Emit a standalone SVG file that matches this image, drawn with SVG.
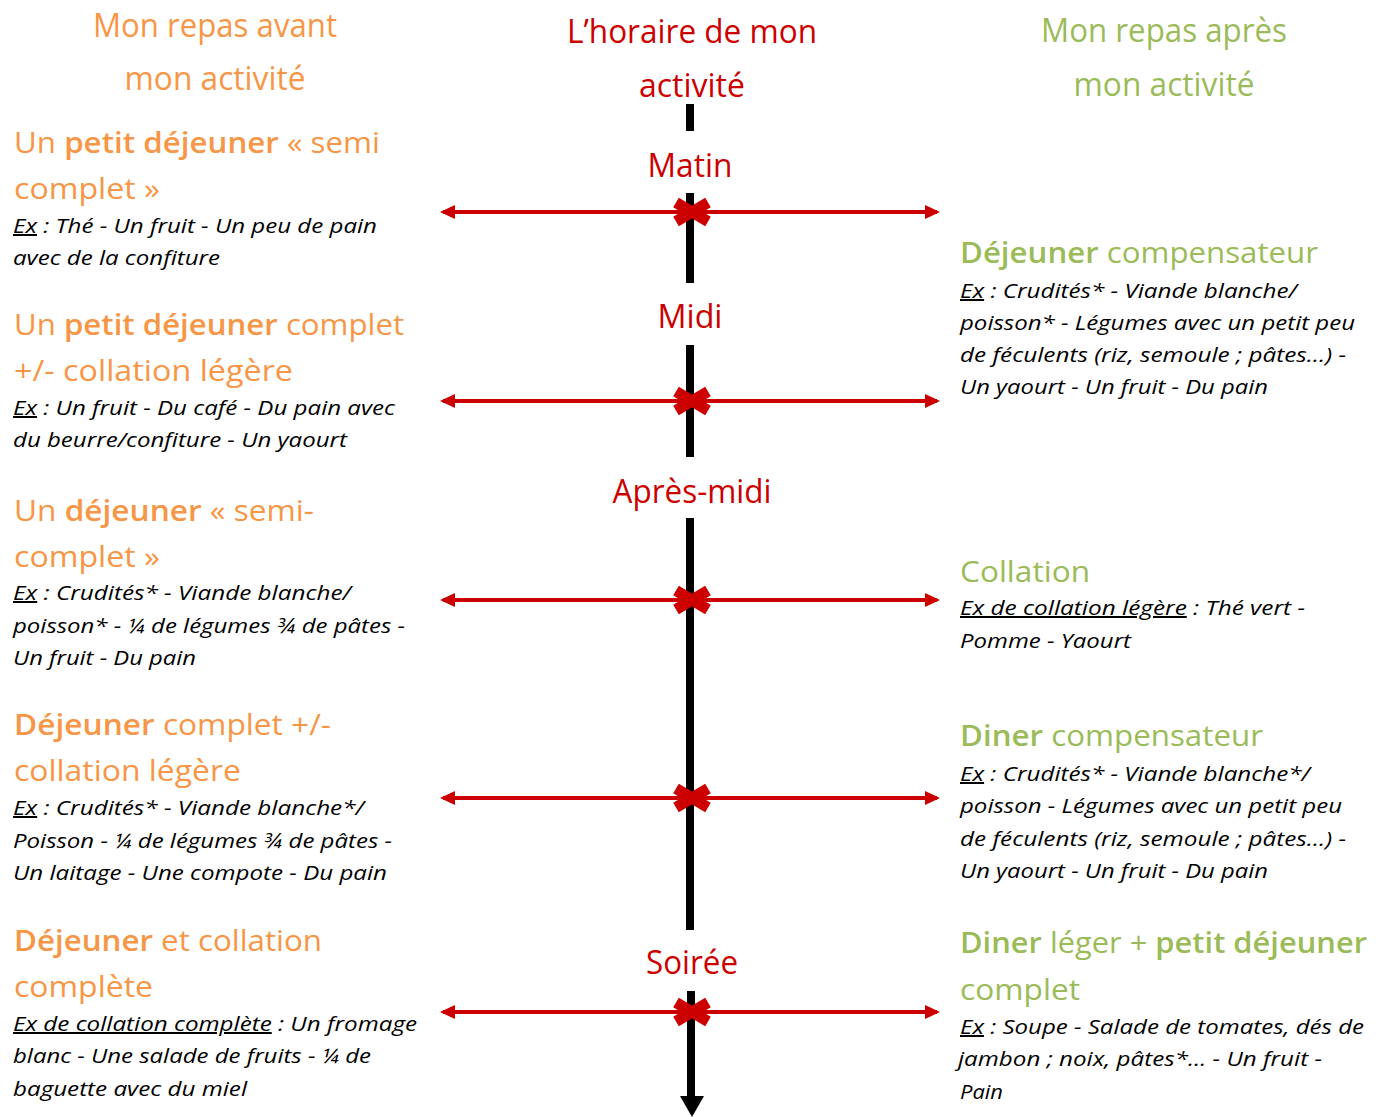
<svg xmlns="http://www.w3.org/2000/svg" width="1384" height="1117" viewBox="0 0 1384 1117">
<style>
text{font-family:"Open Sans","Noto Sans",sans-serif}
.h{font-size:29px}
.tt{font-size:32.5px}
.o{fill:#F79646}
.g{fill:#9BBB59}
.r{fill:#CC0000}
.b{font-weight:600}
.t{font-size:20px;font-style:italic;font-weight:400;fill:#000}
.u{text-decoration:underline}
.m{text-anchor:middle}
.arr{stroke:#CC0000;stroke-width:4;fill:none}
.x{stroke:#CC0000;stroke-width:11}
.tl{stroke:#000;stroke-width:8}
</style>
<defs>
<marker id="ah" markerUnits="userSpaceOnUse" markerWidth="16" markerHeight="16" refX="12" refY="7" orient="auto-start-reverse">
<path d="M0,0 L15,7 L0,14 Z" fill="#CC0000"/>
</marker>
</defs>

<g id="titles">
<text class="tt o m" x="215" y="37" textLength="244" lengthAdjust="spacingAndGlyphs">Mon repas avant</text>
<text class="tt o m" x="215" y="90" textLength="181" lengthAdjust="spacingAndGlyphs">mon activité</text>
<text class="tt r m" x="692" y="43" textLength="250" lengthAdjust="spacingAndGlyphs">L’horaire de mon</text>
<text class="tt r m" x="692" y="97" textLength="106" lengthAdjust="spacingAndGlyphs">activité</text>
<text class="tt g m" x="1164" y="42" textLength="246" lengthAdjust="spacingAndGlyphs">Mon repas après</text>
<text class="tt g m" x="1164" y="96" textLength="181" lengthAdjust="spacingAndGlyphs">mon activité</text>
</g>

<g id="connectors">
<line class="tl" x1="690" y1="104" x2="690" y2="131"/>
<line class="tl" x1="690" y1="193" x2="690" y2="283"/>
<line class="tl" x1="690" y1="345" x2="690" y2="457"/>
<line class="tl" x1="690" y1="518" x2="690" y2="930"/>
<line class="tl" x1="691" y1="991" x2="691" y2="1098"/>
<path d="M680,1096 L704,1096 L692,1117 Z" fill="#000"/>
<line class="arr" x1="443" y1="212" x2="937" y2="212" marker-start="url(#ah)" marker-end="url(#ah)"/>
<line class="arr" x1="443" y1="401" x2="937" y2="401" marker-start="url(#ah)" marker-end="url(#ah)"/>
<line class="arr" x1="443" y1="600" x2="937" y2="600" marker-start="url(#ah)" marker-end="url(#ah)"/>
<line class="arr" x1="443" y1="798" x2="937" y2="798" marker-start="url(#ah)" marker-end="url(#ah)"/>
<line class="arr" x1="443" y1="1012" x2="937" y2="1012" marker-start="url(#ah)" marker-end="url(#ah)"/>
</g>

<g id="marks">
<path class="x" d="M676,202.5 L708,221.5 M676,221.5 L708,202.5"/>
<path class="x" d="M676,391.5 L708,410.5 M676,410.5 L708,391.5"/>
<path class="x" d="M676,590.5 L708,609.5 M676,609.5 L708,590.5"/>
<path class="x" d="M676,788.5 L708,807.5 M676,807.5 L708,788.5"/>
<path class="x" d="M676,1002.5 L708,1021.5 M676,1021.5 L708,1002.5"/>
</g>

<g id="time-labels">
<text class="tt r m" x="690" y="177" textLength="85" lengthAdjust="spacingAndGlyphs">Matin</text>
<text class="tt r m" x="690" y="328" textLength="65" lengthAdjust="spacingAndGlyphs">Midi</text>
<text class="tt r m" x="692" y="503" textLength="159" lengthAdjust="spacingAndGlyphs">Après-midi</text>
<text class="tt r m" x="692" y="974" textLength="92" lengthAdjust="spacingAndGlyphs">Soirée</text>
</g>

<g id="avant-1">
<text class="h o" x="14" y="153" textLength="366" lengthAdjust="spacingAndGlyphs">Un <tspan class="b">petit déjeuner</tspan> « semi</text>
<text class="h o" x="14" y="199" textLength="146" lengthAdjust="spacingAndGlyphs">complet »</text>
<text class="t" x="13" y="233" textLength="364" lengthAdjust="spacingAndGlyphs"><tspan class="u">Ex</tspan> : Thé - Un fruit - Un peu de pain</text>
<text class="t" x="13" y="265" textLength="207" lengthAdjust="spacingAndGlyphs">avec de la confiture</text>
</g>

<g id="avant-2">
<text class="h o" x="14" y="335" textLength="390" lengthAdjust="spacingAndGlyphs">Un <tspan class="b">petit déjeuner</tspan> complet</text>
<text class="h o" x="14" y="381" textLength="279" lengthAdjust="spacingAndGlyphs">+/- collation légère</text>
<text class="t" x="13" y="415" textLength="382" lengthAdjust="spacingAndGlyphs"><tspan class="u">Ex</tspan> : Un fruit - Du café - Du pain avec</text>
<text class="t" x="13" y="447" textLength="334" lengthAdjust="spacingAndGlyphs">du beurre/confiture - Un yaourt</text>
</g>

<g id="avant-3">
<text class="h o" x="14" y="521" textLength="300" lengthAdjust="spacingAndGlyphs">Un <tspan class="b">déjeuner</tspan> « semi-</text>
<text class="h o" x="14" y="567" textLength="146" lengthAdjust="spacingAndGlyphs">complet »</text>
<text class="t" x="13" y="600" textLength="338" lengthAdjust="spacingAndGlyphs"><tspan class="u">Ex</tspan> : Crudités* - Viande blanche/</text>
<text class="t" x="13" y="633" textLength="392" lengthAdjust="spacingAndGlyphs">poisson* - ¼ de légumes ¾ de pâtes -</text>
<text class="t" x="13" y="665" textLength="183" lengthAdjust="spacingAndGlyphs">Un fruit - Du pain</text>
</g>

<g id="avant-4">
<text class="h o" x="14" y="735" textLength="317" lengthAdjust="spacingAndGlyphs"><tspan class="b">Déjeuner</tspan> complet +/-</text>
<text class="h o" x="14" y="781" textLength="227" lengthAdjust="spacingAndGlyphs">collation légère</text>
<text class="t" x="13" y="815" textLength="351" lengthAdjust="spacingAndGlyphs"><tspan class="u">Ex</tspan> : Crudités* - Viande blanche*/</text>
<text class="t" x="13" y="848" textLength="379" lengthAdjust="spacingAndGlyphs">Poisson - ¼ de légumes ¾ de pâtes -</text>
<text class="t" x="13" y="880" textLength="374" lengthAdjust="spacingAndGlyphs">Un laitage - Une compote - Du pain</text>
</g>

<g id="avant-5">
<text class="h o" x="14" y="951" textLength="308" lengthAdjust="spacingAndGlyphs"><tspan class="b">Déjeuner</tspan> et collation</text>
<text class="h o" x="14" y="997" textLength="139" lengthAdjust="spacingAndGlyphs">complète</text>
<text class="t" x="13" y="1031" textLength="404" lengthAdjust="spacingAndGlyphs"><tspan class="u">Ex de collation complète</tspan> : Un fromage</text>
<text class="t" x="13" y="1063" textLength="358" lengthAdjust="spacingAndGlyphs">blanc - Une salade de fruits - ¼ de</text>
<text class="t" x="13" y="1096" textLength="234" lengthAdjust="spacingAndGlyphs">baguette avec du miel</text>
</g>

<g id="apres-1">
<text class="h g" x="960" y="263" textLength="358" lengthAdjust="spacingAndGlyphs"><tspan class="b">Déjeuner</tspan> compensateur</text>
<text class="t" x="960" y="298" textLength="337" lengthAdjust="spacingAndGlyphs"><tspan class="u">Ex</tspan> : Crudités* - Viande blanche/</text>
<text class="t" x="960" y="330" textLength="395" lengthAdjust="spacingAndGlyphs">poisson* - Légumes avec un petit peu</text>
<text class="t" x="960" y="362" textLength="386" lengthAdjust="spacingAndGlyphs">de féculents (riz, semoule ; pâtes…) -</text>
<text class="t" x="960" y="394" textLength="308" lengthAdjust="spacingAndGlyphs">Un yaourt - Un fruit - Du pain</text>
</g>

<g id="apres-2">
<text class="h g" x="960" y="582" textLength="130" lengthAdjust="spacingAndGlyphs">Collation</text>
<text class="t" x="960" y="615" textLength="345" lengthAdjust="spacingAndGlyphs"><tspan class="u">Ex de collation légère</tspan> : Thé vert -</text>
<text class="t" x="960" y="648" textLength="171" lengthAdjust="spacingAndGlyphs">Pomme - Yaourt</text>
</g>

<g id="apres-3">
<text class="h g" x="960" y="746" textLength="303" lengthAdjust="spacingAndGlyphs"><tspan class="b">Diner</tspan> compensateur</text>
<text class="t" x="960" y="781" textLength="350" lengthAdjust="spacingAndGlyphs"><tspan class="u">Ex</tspan> : Crudités* - Viande blanche*/</text>
<text class="t" x="960" y="813" textLength="382" lengthAdjust="spacingAndGlyphs">poisson - Légumes avec un petit peu</text>
<text class="t" x="960" y="846" textLength="386" lengthAdjust="spacingAndGlyphs">de féculents (riz, semoule ; pâtes…) -</text>
<text class="t" x="960" y="878" textLength="308" lengthAdjust="spacingAndGlyphs">Un yaourt - Un fruit - Du pain</text>
</g>

<g id="apres-4">
<text class="h g" x="960" y="953" textLength="407" lengthAdjust="spacingAndGlyphs"><tspan class="b">Diner</tspan> léger + <tspan class="b">petit déjeuner</tspan></text>
<text class="h g" x="960" y="1000" textLength="120" lengthAdjust="spacingAndGlyphs">complet</text>
<text class="t" x="960" y="1034" textLength="404" lengthAdjust="spacingAndGlyphs"><tspan class="u">Ex</tspan> : Soupe - Salade de tomates, dés de</text>
<text class="t" x="958" y="1066" textLength="364" lengthAdjust="spacingAndGlyphs">jambon ; noix, pâtes*… - Un fruit -</text>
<text class="t" x="960" y="1099" textLength="43" lengthAdjust="spacingAndGlyphs">Pain</text>
</g>
</svg>
